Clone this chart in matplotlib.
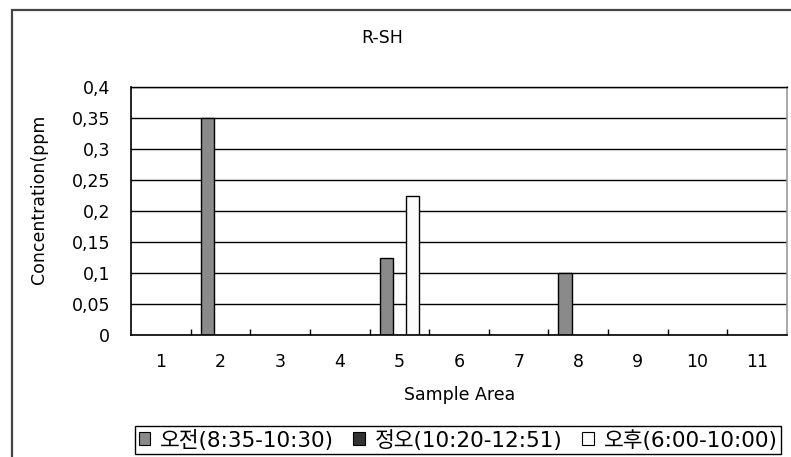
import matplotlib
matplotlib.use('Agg')
import matplotlib.pyplot as plt
from matplotlib.patches import Patch, Rectangle
import numpy as np

plt.rcParams['font.family'] = ['DejaVu Sans', 'Noto Sans CJK KR']

categories = ['1', '2', '3', '4', '5', '6', '7', '8', '9', '10', '11']
morning = [0, 0.35, 0, 0, 0.125, 0, 0, 0.1, 0, 0, 0]
noon = [0, 0, 0, 0, 0, 0, 0, 0, 0, 0, 0]
evening = [0, 0, 0, 0, 0.225, 0, 0, 0, 0, 0, 0]
series_labels = ['오전(8:35-10:30)', '정오(10:20-12:51)', '오후(6:00-10:00)']
series_colors = ['#8a8a8a', '#333333', '#fbfbfb']
yticks = [0, 0.05, 0.1, 0.15, 0.2, 0.25, 0.3, 0.35, 0.4]
ytick_labels = ['0', '0,05', '0,1', '0,15', '0,2', '0,25', '0,3', '0,35', '0,4']
title = 'R-SH'
xlabel = 'Sample Area'
ylabel = 'Concentration(ppm'

FS = 12.5
W, H = 791, 457
fig = plt.figure(figsize=(W / 100, H / 100), dpi=100)
fig.patch.set_facecolor('white')

# outer chart border (partially cropped)
fig.patches.append(Rectangle((12 / W, -0.1), 1.2, 1 - 10 / H + 0.1,
                             transform=fig.transFigure, fill=False,
                             edgecolor='#444444', linewidth=1.6))

ax = fig.add_axes([131 / W, 1 - 335 / H, (787 - 131) / W, (335 - 87) / H])
x = np.arange(len(categories))
bw = 0.222
for i, (vals, col, lab) in enumerate(zip([morning, noon, evening], series_colors, series_labels)):
    vals = np.array(vals, dtype=float)
    mask = vals > 0
    ax.bar(x[mask] + (i - 1) * bw, vals[mask], width=bw, color=col,
           edgecolor='black', linewidth=1.0, zorder=3)

ax.set_xlim(-0.5, len(categories) - 0.5)
ax.set_ylim(0, 0.4)
ax.set_yticks(yticks)
ax.set_yticklabels(ytick_labels)
ax.set_xticks(x)
ax.set_xticklabels(categories)
ax.set_xticks(np.arange(0.5, len(categories) - 0.5, 1), minor=True)
ax.tick_params(axis='x', which='major', length=0, pad=13, labelsize=FS)
ax.tick_params(axis='x', which='minor', length=4, direction='in', width=1.0, color='black')
ax.tick_params(axis='y', length=0, pad=15, labelsize=FS)
ax.grid(axis='y', color='black', linewidth=1.0, zorder=1)
ax.set_axisbelow(True)

for s in ['left', 'bottom']:
    ax.spines[s].set_color('black')
    ax.spines[s].set_linewidth(1.2)
    ax.spines[s].set_zorder(4)
ax.spines['right'].set_color('#999999')
ax.spines['right'].set_linewidth(1.2)
ax.spines['top'].set_color('black')
ax.spines['top'].set_linewidth(1.0)

ax.set_ylabel(ylabel, fontsize=FS)
ax.yaxis.set_label_coords(-0.1265, 0.548)

fig.text(382 / W, 1 - 38 / H, title, ha='center', va='center', fontsize=FS)
fig.text(460 / W, 1 - 395 / H, xlabel, ha='center', va='center', fontsize=FS)

handles = [Patch(facecolor=c, edgecolor='black', linewidth=0.8) for c in series_colors]
leg = fig.legend(handles, series_labels, loc='center', ncol=3,
                 bbox_to_anchor=(458 / W, 1 - 440 / H), fontsize=15.5,
                 handlelength=0.55, handleheight=0.55, handletextpad=0.45,
                 columnspacing=0.9, borderpad=0.15, fancybox=False,
                 framealpha=1, edgecolor='black', borderaxespad=0)
leg.get_frame().set_linewidth(1.0)

fig.savefig('out.png', dpi=100)
